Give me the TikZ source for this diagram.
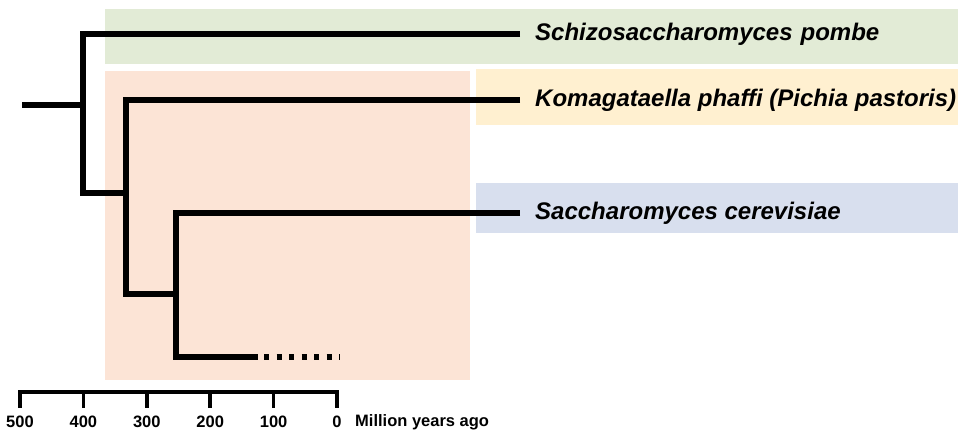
\documentclass[tikz,border=0pt]{standalone}
\usepackage{fontspec}
\setmainfont{Liberation Sans}[Ligatures=CommonOff]
\definecolor{cgreen}{RGB}{226,235,214}
\definecolor{csalmon}{RGB}{252,228,214}
\definecolor{cyellow}{RGB}{255,240,208}
\definecolor{cblue}{RGB}{216,223,238}
\begin{document}
\begin{tikzpicture}[x=1pt,y=-1pt,
  branch/.style={line width=6pt,line join=miter,line cap=butt},
  axisline/.style={line width=3.5pt,line cap=butt},
  species/.style={anchor=west,inner sep=0pt,font=\fontsize{24}{27}\selectfont\bfseries\itshape},
  ticklabel/.style={anchor=center,inner sep=0pt,font=\fontsize{16.5}{18}\selectfont\bfseries}]
\useasboundingbox (0,0) rectangle (958,433);
% background panels
\fill[cgreen] (105,9) rectangle (958,64);
\fill[csalmon] (105,71) rectangle (470,380);
\fill[cyellow] (476,69) rectangle (958,125);
\fill[cblue] (476,183) rectangle (958,233);
% tips
\coordinate (tA) at (520,34);
\coordinate (tB) at (520,100);
\coordinate (tC) at (520,213);
\coordinate (tD) at (258,357);
\coordinate (tDe) at (340,357);
\coordinate (root) at (22,105);
% internal nodes
\coordinate (n1) at (83,105);
\coordinate (n2) at (126,193);
\coordinate (n3) at (176,294);
% labels
\node[species] (lA) at (535,34) {Schizosaccharomyces\,\,pombe};
\node[species] (lB) at (535,100) {Komagataella phaffi (Pichia pastoris)};
\node[species] (lC) at (535,213) {Saccharomyces cerevisiae};
% tree
\draw[branch] (root) -- (n1);
\draw[branch] (tA) -- (tA -| n1) -- (n2 -| n1) -- ([xshift=3pt]n2);
\draw[branch] (tB) -- (tB -| n2) -- (n3 -| n2) -- ([xshift=3pt]n3);
\draw[branch] (tC) -- (tC -| n3) -- (tD -| n3) -- (tD);
\draw[branch,dash pattern=on 5pt off 7.5pt] ([xshift=6pt]tD) -- (tDe);
% axis
\coordinate (a500) at (20,392);
\coordinate (a0) at (337,392);
\draw[axisline] ([xshift=-1.75pt]a500) -- ([xshift=1.75pt]a0);
\foreach \v [count=\i from 0] in {500,400,300,200,100,0}{
  \coordinate (t\i) at ({20+63.4*\i},392);
  \draw[axisline] (t\i) -- ++(0,16);
  \node[ticklabel] (lab\i) at ({20+63.4*\i},422) {\v};
}
\node[ticklabel,anchor=west] (unit) at (355,422) {Million years ago};
\end{tikzpicture}
\end{document}
